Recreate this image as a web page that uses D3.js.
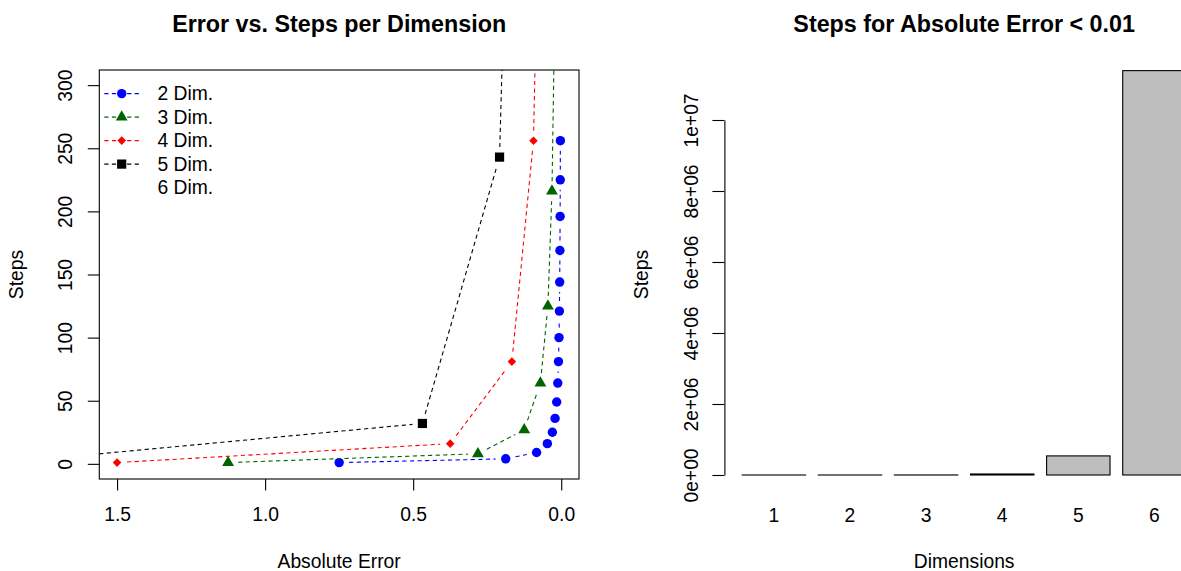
<!DOCTYPE html>
<html><head><meta charset="utf-8">
<script src="https://cdn.jsdelivr.net/npm/d3@7/dist/d3.min.js"></script>
<style>
body{margin:0;background:#fff}
text{font-family:"Liberation Sans",Arial,Helvetica,sans-serif;fill:#000}
</style>
</head><body>
<svg id="c" width="1181" height="571"></svg>
<script>
// ---------- data ----------
const err2   = [0.75, 0.1875, 0.0833, 0.0469, 0.030, 0.0208, 0.0153, 0.0117, 0.0093, 0.0075, 0.0062, 0.0052, 0.0044, 0.0038, 0.0033, 0.0029];
const steps2 = [1, 4, 9, 16, 25, 36, 49, 64, 81, 100, 121, 144, 169, 196, 225, 256];
const err3   = [1.125, 0.2813, 0.125, 0.0703, 0.045, 0.0313, 0.023];
const steps3 = [1, 8, 27, 64, 125, 216, 343];
const err4   = [1.5, 0.375, 0.1667, 0.0938, 0.06];
const steps4 = [1, 16, 81, 256, 625];
const err5   = [1.875, 0.4688, 0.2083, 0.1172];
const steps5 = [1, 32, 243, 1024];
const legendLabels = ["2 Dim.", "3 Dim.", "4 Dim.", "5 Dim.", "6 Dim."];
const xTicksLeft = [1.5, 1.0, 0.5, 0.0];
const yTicksLeft = [0, 50, 100, 150, 200, 250, 300];

const dimensions = [1, 2, 3, 4, 5, 6];
const barSteps   = [7, 81, 1331, 28561, 537824, 11390625];
const yTicksRight = [0, 2e6, 4e6, 6e6, 8e6, 1e7];
const yTickLabelsRight = ["0e+00", "2e+06", "4e+06", "6e+06", "8e+06", "1e+07"];

// ---------- styles ----------
const FS = 19.3, TFS = 23.3;
const colors = ["#0000FF", "#006400", "#FF0000", "#000000"];
const shapes = ["circle", "triangle", "diamond", "square"];
const DASH = "4.2,3.4";

const svg = d3.select("#c");

// ================= LEFT PLOT =================
const L = {x0: 99.3, x1: 579, y0: 70, y1: 479};
const x = d3.scaleLinear().domain([1.56, -0.06]).range([L.x0, L.x1]);
const y = d3.scaleLinear().domain([-12, 312]).range([L.y1, L.y0]);

svg.append("clipPath").attr("id", "clipL").append("rect")
  .attr("x", L.x0).attr("y", L.y0).attr("width", L.x1 - L.x0).attr("height", L.y1 - L.y0);

function marker(g, shape, cx, cy, col) {
  if (shape === "circle") {
    g.append("circle").attr("cx", cx).attr("cy", cy).attr("r", 4.7).attr("fill", col);
  } else if (shape === "triangle") {
    const b = 4.4;
    const pts = [[cx, cy - 1.555 * b], [cx + 1.347 * b, cy + 0.778 * b], [cx - 1.347 * b, cy + 0.778 * b]];
    g.append("path").attr("d", "M" + pts.join("L") + "Z").attr("fill", col);
  } else if (shape === "diamond") {
    const h = 4.3;
    g.append("path").attr("d", `M${cx},${cy - h}L${cx + h},${cy}L${cx},${cy + h}L${cx - h},${cy}Z`).attr("fill", col);
  } else if (shape === "square") {
    const h = 4.6;
    g.append("rect").attr("x", cx - h).attr("y", cy - h).attr("width", 2 * h).attr("height", 2 * h).attr("fill", col);
  }
}

const series = [[err2, steps2], [err3, steps3], [err4, steps4], [err5, steps5]];
const plotG = svg.append("g").attr("clip-path", "url(#clipL)");
const GAP = 10;
series.forEach(([ex, st], si) => {
  const pts = ex.map((e, i) => [x(e), y(st[i])]);
  const col = colors[si];
  for (let i = 0; i < pts.length - 1; i++) {
    const [ax, ay] = pts[i], [bx, by] = pts[i + 1];
    const dx = bx - ax, dy = by - ay, d = Math.hypot(dx, dy);
    if (d <= 2 * GAP) continue;
    const ux = dx / d, uy = dy / d;
    plotG.append("line")
      .attr("x1", ax + ux * GAP).attr("y1", ay + uy * GAP)
      .attr("x2", bx - ux * GAP).attr("y2", by - uy * GAP)
      .attr("stroke", col).attr("stroke-width", 1.1).attr("stroke-dasharray", DASH);
  }
  pts.forEach(([px, py]) => marker(plotG, shapes[si], px, py, col));
});

// box
svg.append("rect").attr("x", L.x0).attr("y", L.y0).attr("width", L.x1 - L.x0).attr("height", L.y1 - L.y0)
  .attr("fill", "none").attr("stroke", "#000").attr("stroke-width", 1.1);

// axes
const xAxL = svg.append("g").attr("transform", `translate(0,${L.y1})`)
  .call(d3.axisBottom(x).tickValues(xTicksLeft).tickFormat(d3.format(".1f")).tickSize(11.5).tickSizeOuter(0));
xAxL.select(".domain").remove();
xAxL.selectAll("line").attr("stroke", "#000").attr("stroke-width", 1.1);
xAxL.selectAll("text").attr("y", 42).attr("dy", 0).style("font-size", FS + "px").attr("font-family", null);

const yAxL = svg.append("g").attr("transform", `translate(${L.x0},0)`)
  .call(d3.axisLeft(y).tickValues(yTicksLeft).tickSize(11.5).tickSizeOuter(0));
yAxL.select(".domain").remove();
yAxL.selectAll("line").attr("stroke", "#000").attr("stroke-width", 1.1);
yAxL.selectAll("text").attr("x", 0).attr("y", -27.3).attr("dy", 0)
  .attr("transform", "rotate(-90)").attr("text-anchor", "middle").style("font-size", FS + "px").attr("font-family", null);

// labels
svg.append("text").attr("x", (L.x0 + L.x1) / 2).attr("y", 31.5).attr("text-anchor", "middle")
  .style("font-size", TFS + "px").style("font-weight", "bold").text("Error vs. Steps per Dimension");
svg.append("text").attr("x", (L.x0 + L.x1) / 2).attr("y", 568).attr("text-anchor", "middle")
  .style("font-size", FS + "px").text("Absolute Error");
svg.append("text").attr("transform", `translate(${L.x0 - 76.8},${(L.y0 + L.y1) / 2}) rotate(-90)`)
  .attr("text-anchor", "middle").style("font-size", FS + "px").text("Steps");

// legend
const leg = svg.append("g");
legendLabels.forEach((lab, i) => {
  const ly = 93.6 + 23.5 * i;
  if (i < colors.length) {
    leg.append("line").attr("x1", 104.3).attr("x2", 139).attr("y1", ly).attr("y2", ly)
      .attr("stroke", colors[i]).attr("stroke-width", 1.1).attr("stroke-dasharray", DASH);
    marker(leg, shapes[i], 121.7, ly, colors[i]);
  }
  leg.append("text").attr("x", 157.5).attr("y", ly).attr("dy", "0.35em")
    .style("font-size", FS + "px").text(lab);
});

// ================= RIGHT PLOT =================
const xr = d3.scaleLinear().domain([-0.08, 7.48]).range([724.4, 1203.9]);
const yr = d3.scaleLinear().domain([0, 1e7]).range([475, 120]);

svg.append("g").selectAll("rect").data(barSteps).join("rect")
  .attr("x", (d, i) => xr(0.2 + 1.2 * i))
  .attr("width", xr(1) - xr(0))
  .attr("y", d => yr(d))
  .attr("height", d => yr(0) - yr(d))
  .attr("fill", "#BEBEBE").attr("stroke", "#000").attr("stroke-width", 1.1);

const yAxR = svg.append("g").attr("transform", `translate(${xr(-0.08)},0)`)
  .call(d3.axisLeft(yr).tickValues(yTicksRight).tickFormat((d, i) => yTickLabelsRight[i]).tickSize(12).tickSizeOuter(0));
yAxR.select(".domain").attr("stroke", "#000").attr("stroke-width", 1.1);
yAxR.selectAll("line").attr("stroke", "#000").attr("stroke-width", 1.1);
yAxR.selectAll("text").attr("x", 0).attr("y", -26.5).attr("dy", 0)
  .attr("transform", "rotate(-90)").attr("text-anchor", "middle").style("font-size", FS + "px").attr("font-family", null);

svg.append("g").selectAll("text").data(dimensions).join("text")
  .attr("x", (d, i) => xr(0.7 + 1.2 * i)).attr("y", 522).attr("text-anchor", "middle")
  .style("font-size", FS + "px").text(d => d);

const rc = (xr(-0.08) + xr(7.48)) / 2;
svg.append("text").attr("x", rc).attr("y", 31.5).attr("text-anchor", "middle")
  .style("font-size", TFS + "px").style("font-weight", "bold").text("Steps for Absolute Error < 0.01");
svg.append("text").attr("x", rc).attr("y", 568).attr("text-anchor", "middle")
  .style("font-size", FS + "px").text("Dimensions");
svg.append("text").attr("transform", `translate(${xr(-0.08) - 76.5},${(L.y0 + L.y1) / 2}) rotate(-90)`)
  .attr("text-anchor", "middle").style("font-size", FS + "px").text("Steps");
</script>
</body></html>
